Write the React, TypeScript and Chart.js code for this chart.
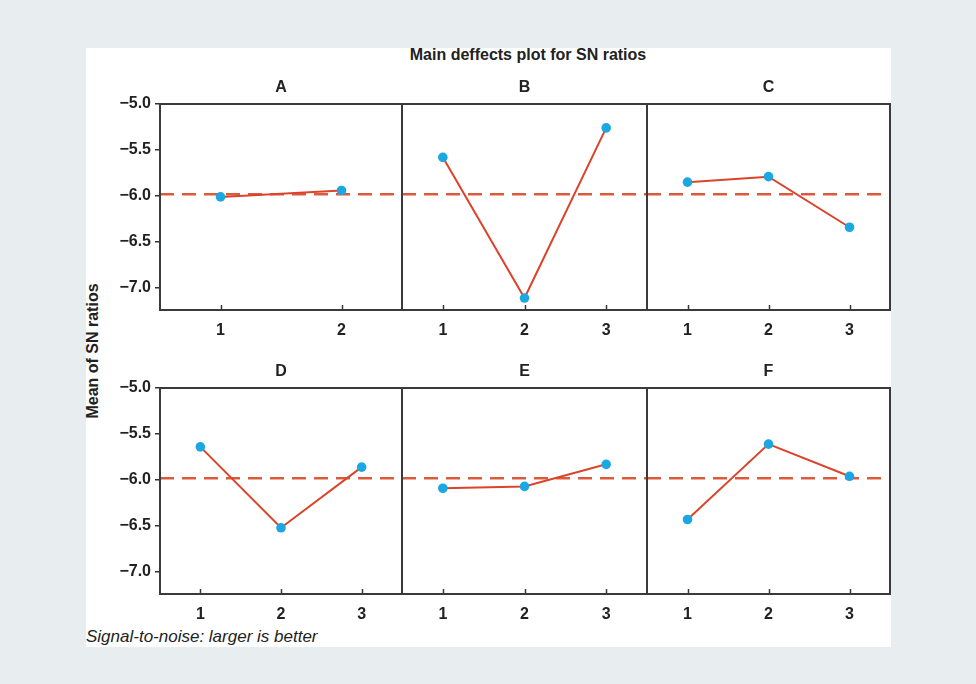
import React, { useEffect, useRef } from 'react';
import { Chart, registerables } from 'chart.js';

Chart.register(...registerables);

// ---------- data ----------
const FACTORS = ['A', 'B', 'C', 'D', 'E', 'F'];
const LEVELS_2 = ['1', '2'];
const LEVELS_3 = ['1', '2', '3'];
const SN_A = [-6.01, -5.94];
const SN_B = [-5.58, -7.11, -5.26];
const SN_C = [-5.85, -5.79, -6.34];
const SN_D = [-5.64, -6.52, -5.86];
const SN_E = [-6.09, -6.07, -5.83];
const SN_F = [-6.43, -5.61, -5.96];
const GRAND_MEAN = -5.98;
const Y_TICKS = [-5.0, -5.5, -6.0, -6.5, -7.0];
const Y_MAX = -5.0;
const Y_MIN = -7.24;
const TITLE = 'Main deffects plot for SN ratios';
const Y_LABEL = 'Mean of SN ratios';
const FOOTNOTE = 'Signal-to-noise: larger is better';

// ---------- layout ----------
const FONT = "'Liberation Sans', Arial, Helvetica, sans-serif";
const COL_EDGES = [[160, 402], [402, 647], [647, 890]];
const ROW_EDGES = [[104, 310], [388, 594]];
const PAD_LEFT = 70;
const PAD_RIGHT = 10;
const TOP_SPACE = 30;
const BOTTOM_SPACE = 40;

const PANELS = [
  { name: FACTORS[0], levels: LEVELS_2, values: SN_A, col: 0, row: 0 },
  { name: FACTORS[1], levels: LEVELS_3, values: SN_B, col: 1, row: 0 },
  { name: FACTORS[2], levels: LEVELS_3, values: SN_C, col: 2, row: 0 },
  { name: FACTORS[3], levels: LEVELS_3, values: SN_D, col: 0, row: 1 },
  { name: FACTORS[4], levels: LEVELS_3, values: SN_E, col: 1, row: 1 },
  { name: FACTORS[5], levels: LEVELS_3, values: SN_F, col: 2, row: 1 },
];

const panelPlugin = {
  id: 'panelDecor',
  beforeDatasetsDraw(chart: any) {
    const { ctx, chartArea: a, scales } = chart;
    const y = scales.y.getPixelForValue(GRAND_MEAN);
    ctx.save();
    ctx.strokeStyle = '#dc5a3c';
    ctx.lineWidth = 2.5;
    ctx.setLineDash([14, 8]);
    ctx.beginPath();
    ctx.moveTo(a.left, y);
    ctx.lineTo(a.right, y);
    ctx.stroke();
    ctx.restore();
  },
  afterDraw(chart: any) {
    const { ctx, chartArea: a, scales } = chart;
    ctx.save();
    ctx.strokeStyle = '#3a3a3a';
    ctx.lineWidth = 2;
    ctx.strokeRect(a.left, a.top, a.right - a.left, a.bottom - a.top);
    ctx.lineWidth = 1.5;
    ctx.beginPath();
    for (let i = 0; i < scales.x.ticks.length; i++) {
      const x = Math.round(scales.x.getPixelForTick(i)) + 0.5;
      ctx.moveTo(x, a.bottom);
      ctx.lineTo(x, a.bottom - 5);
    }
    ctx.stroke();
    ctx.restore();
  },
};

function Panel({ name, levels, values, col, row }: any) {
  const ref = useRef<HTMLCanvasElement>(null);
  const [x0, x1] = COL_EDGES[col];
  const [y0, y1] = ROW_EDGES[row];
  const width = x1 - x0 + PAD_LEFT + PAD_RIGHT;
  const height = y1 - y0 + TOP_SPACE + BOTTOM_SPACE;
  const showY = col === 0;

  useEffect(() => {
    const canvas = ref.current!;
    const chart = new Chart(canvas, {
      type: 'line',
      data: {
        labels: levels,
        datasets: [
          {
            data: values,
            borderColor: '#d9442b',
            borderWidth: 2,
            pointBackgroundColor: '#1aa7e2',
            pointBorderColor: '#1aa7e2',
            pointRadius: 4.8,
            pointBorderWidth: 0,
            tension: 0,
            clip: false as any,
          },
        ],
      },
      options: {
        responsive: false,
        animation: false,
        devicePixelRatio: 1,
        layout: {
          autoPadding: false,
          padding: { left: showY ? PAD_LEFT - 60 : PAD_LEFT, right: PAD_RIGHT, top: 0, bottom: 0 },
        },
        plugins: {
          legend: { display: false },
          tooltip: { enabled: false },
          title: {
            display: true,
            text: name,
            fullSize: false,
            color: '#222',
            font: { family: FONT, size: 16, weight: 'bold', lineHeight: 1.25 },
            padding: { top: 4, bottom: 6 },
          },
        },
        scales: {
          x: {
            type: 'category',
            offset: true,
            grid: { display: false },
            border: { display: false },
            ticks: {
              color: '#222',
              padding: 3,
              font: { family: FONT, size: 16, weight: 'bold', lineHeight: 1.25 },
              maxRotation: 0,
            },
            afterFit: (s: any) => {
              s.height = BOTTOM_SPACE;
            },
          },
          y: {
            display: showY,
            min: Y_MIN,
            max: Y_MAX,
            grid: {
              drawOnChartArea: false,
              drawTicks: true,
              tickLength: 5,
              color: '#333',
              lineWidth: 1.5,
            },
            border: { display: false },
            ticks: {
              color: '#222',
              padding: 4,
              font: { family: FONT, size: 16, weight: 'bold' },
              callback: (v: any) => (v < 0 ? '\u2212' : '') + Math.abs(Number(v)).toFixed(1),
            },
            afterBuildTicks: (s: any) => {
              s.ticks = Y_TICKS.map((v) => ({ value: v }));
            },
            afterFit: (s: any) => {
              if (showY) s.width = 60;
            },
          },
        },
      } as any,
      plugins: [panelPlugin],
    });
    return () => chart.destroy();
  }, []);

  return (
    <canvas
      ref={ref}
      width={width}
      height={height}
      style={{
        position: 'absolute',
        left: x0 - PAD_LEFT,
        top: y0 - TOP_SPACE,
        width,
        height,
      }}
    />
  );
}

export default function App() {
  return (
    <div
      style={{
        position: 'fixed',
        left: 0,
        top: 0,
        width: 976,
        height: 684,
        background: '#e8edf0',
        overflow: 'hidden',
        fontFamily: FONT,
        color: '#222',
      }}
    >
      <div style={{ position: 'absolute', left: 86, top: 48, width: 805, height: 599, background: '#ffffff' }} />
      <div
        style={{
          position: 'absolute',
          left: 328,
          width: 400,
          top: 45,
          lineHeight: '20px',
          fontSize: 16,
          fontWeight: 'bold',
          textAlign: 'center',
          whiteSpace: 'nowrap',
        }}
      >
        {TITLE}
      </div>
      <div
        style={{
          position: 'absolute',
          left: 93 - 100,
          top: 351 - 10,
          width: 200,
          height: 20,
          lineHeight: '20px',
          fontSize: 16,
          fontWeight: 'bold',
          textAlign: 'center',
          whiteSpace: 'nowrap',
          transform: 'rotate(-90deg)',
        }}
      >
        {Y_LABEL}
      </div>
      <div
        style={{
          position: 'absolute',
          left: 86,
          top: 627,
          lineHeight: '20px',
          fontSize: 17,
          fontStyle: 'italic',
          whiteSpace: 'nowrap',
        }}
      >
        {FOOTNOTE}
      </div>
      {PANELS.map((p) => (
        <Panel key={p.name} {...p} />
      ))}
    </div>
  );
}
